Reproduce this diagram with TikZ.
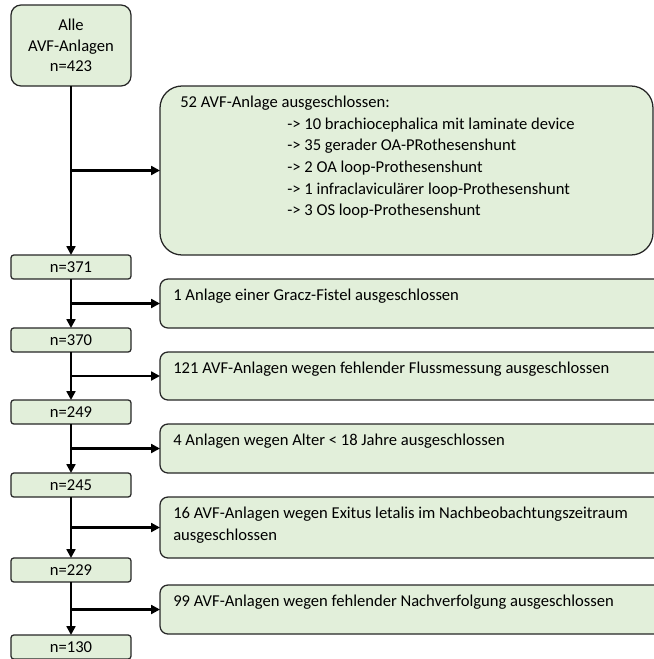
\documentclass[tikz,border=0pt]{standalone}
\usepackage{fontspec}
\setmainfont{Carlito}
\usetikzlibrary{arrows.meta,positioning,calc}
\definecolor{flGreen}{HTML}{E2EFDA}
\definecolor{flLine}{HTML}{262626}

\begin{document}
\begin{tikzpicture}[
  cnt/.style={draw=flLine, fill=flGreen, line width=0.9pt, rounded corners=2pt, minimum width=3cm, minimum height=0.6cm, inner sep=0pt, outer sep=0pt, align=center, font=\fontsize{11.8}{14.5}\selectfont},
  excl/.style={draw=flLine, fill=flGreen, line width=0.9pt, rounded corners=0.2cm, minimum width=12.6cm, anchor=north west, inner sep=0pt, outer sep=0pt},
  txt/.style={anchor=north west, align=left, inner sep=0pt, font=\fontsize{11.8}{15.4}\selectfont},
  flow/.style={-{Triangle[length=2.2mm, width=2.2mm]}, line width=2pt}]
\useasboundingbox (0,0) rectangle (16.35,-16.475);
\clip (0,0) rectangle (16.35,-16.475);
\coordinate (lx) at (4,0);
\node[cnt, minimum height=2.025cm, rounded corners=0.25cm] (all) at (1.775,-1.1375) {Alle\\AVF-Anlagen\\n=423};
\node[cnt, below=4.225cm of all] (n371) {n=371};
\node[cnt, below=1.225cm of n371] (n370) {n=370};
\node[cnt, below=1.2cm of n370] (n249) {n=249};
\node[cnt, below=1.225cm of n249] (n245) {n=245};
\node[cnt, below=1.525cm of n245] (n229) {n=229};
\node[cnt, below=1.325cm of n229] (n130) {n=130};
\node[excl, minimum width=12.325cm, minimum height=4.225cm, rounded corners=0.55cm] (ex0) at (lx |- all.south) {};
\node[excl, minimum height=1.225cm] (ex1) at (lx |- n371.south) {};
\node[excl, minimum height=1.2cm] (ex2) at (lx |- n370.south) {};
\node[excl, minimum height=1.225cm] (ex3) at (lx |- n249.south) {};
\node[excl, minimum height=1.525cm] (ex4) at (lx |- n245.south) {};
\node[excl, minimum height=1.225cm, yshift=-0.075cm] (ex5) at (lx |- n229.south) {};
\node[txt] (t0) at ([shift={(0.5,-0.24)}]ex0.north west) {52 AVF-Anlage ausgeschlossen:\\
  \hspace*{2.675cm}-> 10 brachiocephalica mit laminate device\\
  \hspace*{2.675cm}-> 35 gerader OA-PRothesenshunt\\
  \hspace*{2.675cm}-> 2 OA loop-Prothesenshunt\\
  \hspace*{2.675cm}-> 1 infraclaviculärer loop-Prothesenshunt\\
  \hspace*{2.675cm}-> 3 OS loop-Prothesenshunt};
\node[txt] (t1) at ([shift={(0.325,-0.24)}]ex1.north west) {1 Anlage einer Gracz-Fistel ausgeschlossen};
\node[txt] (t2) at ([shift={(0.325,-0.24)}]ex2.north west) {121 AVF-Anlagen wegen fehlender Flussmessung ausgeschlossen};
\node[txt] (t3) at ([shift={(0.325,-0.24)}]ex3.north west) {4 Anlagen wegen Alter < 18 Jahre ausgeschlossen};
\node[txt] (t4) at ([shift={(0.325,-0.24)}]ex4.north west) {16 AVF-Anlagen wegen Exitus letalis im Nachbeobachtungszeitraum\\ausgeschlossen};
\node[txt] (t5) at ([shift={(0.325,-0.24)}]ex5.north west) {99 AVF-Anlagen wegen fehlender Nachverfolgung ausgeschlossen};
\draw[flow] (all) -- (n371);
\draw[flow] (n371) -- (n370);
\draw[flow] (n370) -- (n249);
\draw[flow] (n249) -- (n245);
\draw[flow] (n245) -- (n229);
\draw[flow] (n229) -- (n130);
\coordinate (b0) at (all.south |- ex0.west);
\coordinate (b1) at (all.south |- ex1.west);
\coordinate (b2) at (all.south |- ex2.west);
\coordinate (b3) at (all.south |- ex3.west);
\coordinate (b4) at (all.south |- ex4.west);
\coordinate (b5) at (all.south |- ex5.west);
\draw[flow] (b0) -- (ex0);
\draw[flow] (b1) -- (ex1);
\draw[flow] (b2) -- (ex2);
\draw[flow] (b3) -- (ex3);
\draw[flow] (b4) -- (ex4);
\draw[flow] (b5) -- (ex5);
\end{tikzpicture}
\end{document}
